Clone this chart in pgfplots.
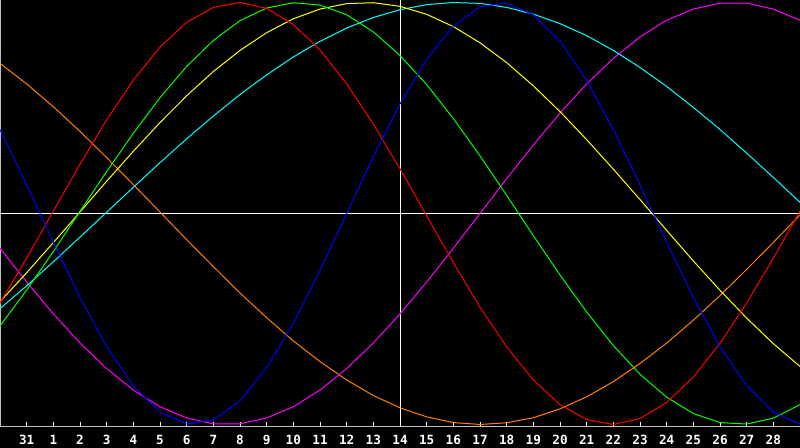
\documentclass[border=0pt]{standalone}
\usepackage{fontspec}
\setmonofont{DejaVu Sans Mono}
\usepackage{pgfplots}
\usepackage{pgfplotstable}
\pgfplotsset{compat=1.18}

\definecolor{framegray}{RGB}{192,192,192}
\definecolor{bioorange}{RGB}{255,128,0}
\definecolor{biored}{RGB}{255,0,0}
\definecolor{bioblue}{RGB}{0,0,255}
\definecolor{biogreen}{RGB}{0,255,0}
\definecolor{bioyellow}{RGB}{255,255,0}
\definecolor{biocyan}{RGB}{0,255,255}
\definecolor{biomagenta}{RGB}{255,0,255}

% day index: 0 = the 31st, 1..28 = days of the month
\pgfplotstableread{
k  red    blue   green  yellow cyan   magenta orange
-1 -0.424 0.398  -0.533 -0.418 -0.451 -0.165 0.712
0  -0.212 0.136  -0.363 -0.281 -0.343 -0.325 0.614
1  0.011  -0.136 -0.180 -0.138 -0.229 -0.476 0.506
2  0.233  -0.398 0.010  0.007  -0.112 -0.614 0.389
3  0.444  -0.631 0.199  0.153  0.006  -0.735 0.265
4  0.632  -0.817 0.380  0.295  0.124  -0.837 0.137
5  0.789  -0.942 0.549  0.431  0.241  -0.916 0.007
6  0.906  -0.998 0.697  0.558  0.354  -0.969 -0.124
7  0.977  -0.979 0.820  0.673  0.462  -0.997 -0.252
8  1.000  -0.888 0.914  0.773  0.564  -0.997 -0.377
9  0.972  -0.731 0.974  0.857  0.657  -0.969 -0.494
10 0.896  -0.520 0.999  0.923  0.742  -0.916 -0.604
11 0.775  -0.270 0.988  0.969  0.816  -0.837 -0.702
12 0.615  0.000  0.942  0.995  0.879  -0.735 -0.789
13 0.424  0.270  0.861  0.999  0.929  -0.614 -0.863
14 0.212  0.520  0.749  0.982  0.966  -0.476 -0.921
15 -0.011 0.731  0.611  0.944  0.990  -0.325 -0.964
16 -0.233 0.888  0.450  0.886  1.000  -0.165 -0.991
17 -0.444 0.979  0.273  0.809  0.996  0.000  -1.000
18 -0.632 0.998  0.086  0.715  0.977  0.165  -0.992
19 -0.789 0.942  -0.105 0.605  0.945  0.325  -0.968
20 -0.906 0.817  -0.291 0.483  0.900  0.476  -0.926
21 -0.977 0.631  -0.467 0.350  0.843  0.614  -0.869
22 -1.000 0.398  -0.626 0.210  0.773  0.735  -0.797
23 -0.972 0.136  -0.762 0.066  0.692  0.837  -0.711
24 -0.896 -0.136 -0.871 -0.080 0.602  0.916  -0.614
25 -0.775 -0.398 -0.948 -0.225 0.503  0.969  -0.506
26 -0.615 -0.631 -0.991 -0.364 0.398  0.997  -0.389
27 -0.424 -0.817 -0.998 -0.496 0.286  0.997  -0.265
28 -0.212 -0.942 -0.970 -0.617 0.171  0.969  -0.137
29 0.011  -0.998 -0.906 -0.725 0.053  0.916  -0.007
}\biodata

\begin{document}
\begin{tikzpicture}
  \fill[black] (0,-15.75pt) rectangle (600pt,320.25pt);
  \begin{axis}[
      scale only axis,
      width=600pt,
      height=320.25pt,
      xmin=-1, xmax=29,
      ymin=-1.012, ymax=1.012,
      axis background/.style={fill=black},
      axis line style={draw=framegray, line width=0.75pt},
      xtick={0,...,28},
      xticklabels={31,1,2,3,4,5,6,7,8,9,10,11,12,13,14,15,16,17,18,19,20,21,22,23,24,25,26,27,28},
      ytick=\empty,
      xtick pos=bottom,
      tick align=inside,
      major tick length=3.75pt,
      tick style={white, line width=0.75pt},
      xticklabel style={
          text=white, anchor=north, inner sep=0pt, yshift=-5.8pt,
          font=\fontsize{9.5}{9.5}\selectfont\ttfamily\bfseries},
      no markers,
      every axis plot/.append style={line width=0.75pt},
    ]
    \draw[white, line width=0.75pt] (axis cs:-1,0) -- (axis cs:29,0);
    \draw[white, line width=0.75pt] (axis cs:14,-1.012) -- (axis cs:14,1.012);

    \addplot[bioorange] table[x=k, y=orange] {\biodata};
    \addplot[biomagenta] table[x=k, y=magenta] {\biodata};
    \addplot[biocyan] table[x=k, y=cyan] {\biodata};
    \addplot[bioyellow] table[x=k, y=yellow] {\biodata};
    \addplot[biogreen] table[x=k, y=green] {\biodata};
    \addplot[biored] table[x=k, y=red] {\biodata};
    \addplot[bioblue] table[x=k, y=blue] {\biodata};
  \end{axis}
  \pgfresetboundingbox
  \path[use as bounding box] (0,-15.75pt) rectangle (600pt,320.25pt);
\end{tikzpicture}
\end{document}
